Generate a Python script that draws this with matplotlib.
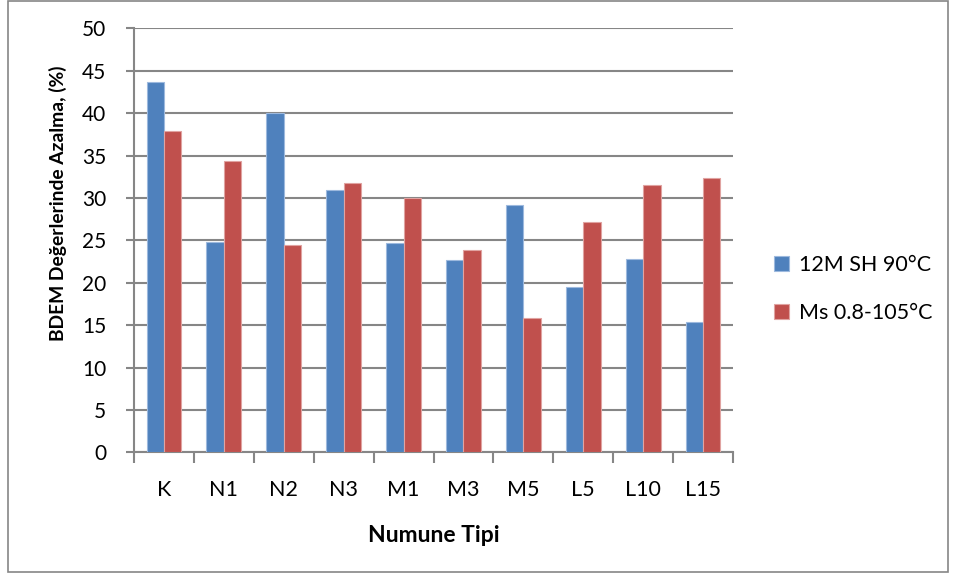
import matplotlib.pyplot as plt
import matplotlib.patches as mpatches
import numpy as np

categories = ["K", "N1", "N2", "N3", "M1", "M3", "M5", "L5", "L10", "L15"]
sh_90 = [43.7, 24.8, 40.0, 30.9, 24.7, 22.7, 29.2, 19.5, 22.8, 15.4]
ms_105 = [37.9, 34.4, 24.4, 31.8, 30.0, 23.8, 15.8, 27.2, 31.5, 32.4]
series_names = ["12M SH 90°C", "Ms 0.8-105°C"]
y_ticks = list(range(0, 55, 5))

plt.rcParams['font.family'] = ['Lato', 'DejaVu Sans']

fig = plt.figure(figsize=(9.58, 5.79), dpi=100)
W, H = 958, 579
ax = fig.add_axes([134 / W, 1 - 452.3 / H, (733 - 134) / W, (452.3 - 28.3) / H])

x = np.arange(len(categories))
bw = 0.29
ax.bar(x - bw / 2, sh_90, bw, color="#4F81BD", edgecolor="#9DB9DE", linewidth=0.8,
       label=series_names[0], zorder=3)
ax.bar(x + bw / 2, ms_105, bw, color="#C0504D", edgecolor="#E0A3A1", linewidth=0.8,
       label=series_names[1], zorder=3)

ax.set_xlim(-0.5, len(categories) - 0.5)
ax.set_ylim(0, 50)
ax.set_yticks(y_ticks)
ax.set_yticklabels([str(v) for v in y_ticks], fontsize=15)
ax.yaxis.grid(True, color="#868686", linewidth=1.5, zorder=0)
ax.set_axisbelow(True)

# category labels between boundary ticks
ax.set_xticks(np.arange(len(categories) + 1) - 0.5)
ax.set_xticklabels([])
ax.set_xticks(x, minor=True)
ax.set_xticklabels(categories, minor=True, fontsize=15.5)
ax.tick_params(axis='x', which='minor', length=0, pad=20)
ax.tick_params(axis='x', which='major', length=8, width=1.5, color="#868686", direction='out')
ax.tick_params(axis='y', length=6, width=1.5, color="#868686", direction='out', pad=14)

for s in ["top", "right"]:
    ax.spines[s].set_visible(False)
for s in ["left", "bottom"]:
    ax.spines[s].set_color("#868686")
    ax.spines[s].set_linewidth(1.5)

ax.set_xlabel("Numune Tipi", fontsize=16.5, fontweight='bold', labelpad=18)
ax.set_ylabel("BDEM Değerlerinde Azalma, (%)", fontsize=13.9, fontweight='bold')
ax.yaxis.set_label_coords(-0.112, 0.588)

leg = fig.legend(loc='upper left', bbox_to_anchor=(755 / W, 1 - 236 / H), frameon=False,
                 fontsize=15.5, handlelength=0.7, handleheight=0.7, labelspacing=1.3,
                 handletextpad=0.45)

fig.patches.append(mpatches.Rectangle((8 / W, 7 / H), 940 / W, 571 / H, transform=fig.transFigure,
                                      fill=False, edgecolor="#868686", linewidth=1.2))

fig.savefig("out.png", dpi=100)
